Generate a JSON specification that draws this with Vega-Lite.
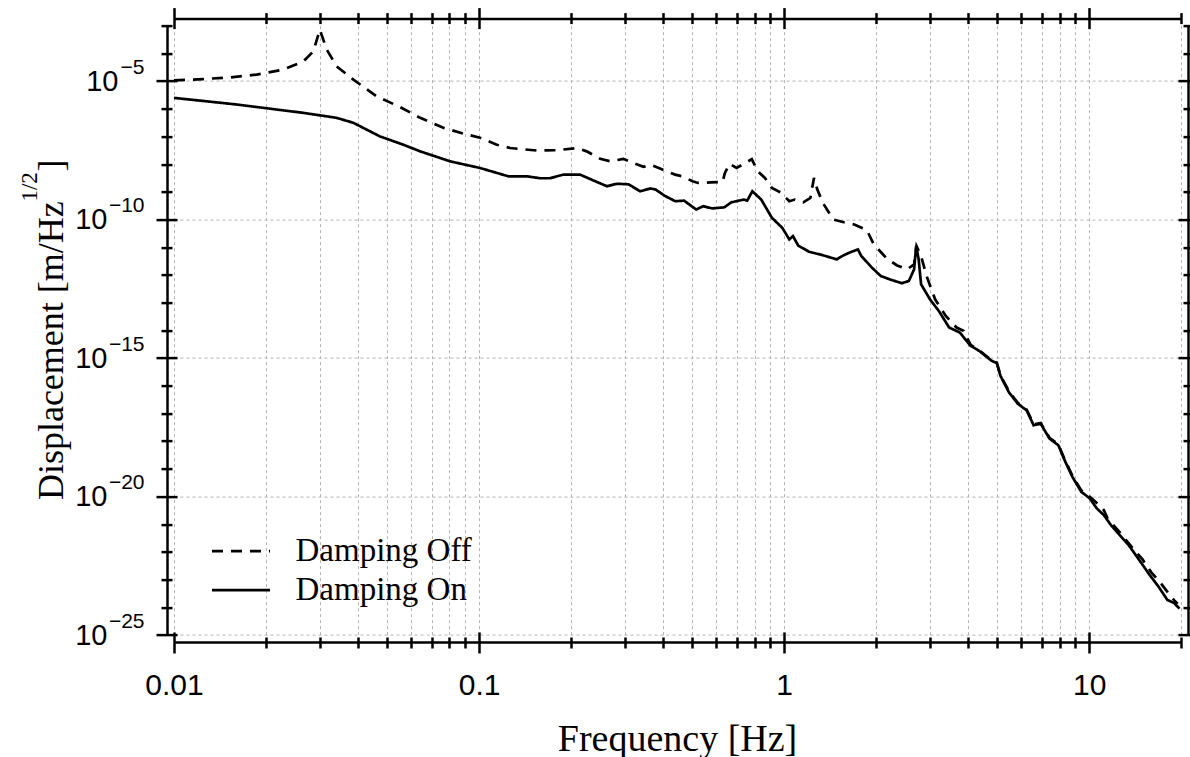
{
  "$schema": "https://vega.github.io/schema/vega-lite/v6.json",
  "width": 1007,
  "height": 609.4,
  "autosize": {"type": "none"},
  "padding": {"left": 174, "top": 25.6, "right": 9, "bottom": 122},
  "background": "white",
  "config": {"view": {"stroke": null}},
  "data": {"values": [
    {"f":0.01,"v":1.047e-5,"s":"Damping Off"},{"f":0.01247,"v":1.175e-5,"s":"Damping Off"},{"f":0.01528,"v":1.349e-5,"s":"Damping Off"},{"f":0.01866,"v":1.698e-5,"s":"Damping Off"},{"f":0.0228,"v":2.57e-5,"s":"Damping Off"},{"f":0.02655,"v":5.129e-5,"s":"Damping Off"},{"f":0.02864,"v":1.175e-4,"s":"Damping Off"},{"f":0.03006,"v":7.079e-4,"s":"Damping Off"},{"f":0.0317,"v":1.349e-4,"s":"Damping Off"},{"f":0.03412,"v":3.388e-5,"s":"Damping Off"},{"f":0.03873,"v":1.122e-5,"s":"Damping Off"},{"f":0.04624,"v":2.754e-6,"s":"Damping Off"},{"f":0.05508,"v":1.148e-6,"s":"Damping Off"},{"f":0.06412,"v":4.677e-7,"s":"Damping Off"},{"f":0.07638,"v":2.042e-7,"s":"Damping Off"},{"f":0.08892,"v":1.259e-7,"s":"Damping Off"},{"f":0.1007,"v":8.913e-8,"s":"Damping Off"},{"f":0.1143,"v":5.012e-8,"s":"Damping Off"},{"f":0.1265,"v":3.802e-8,"s":"Damping Off"},{"f":0.1545,"v":3.09e-8,"s":"Damping Off"},{"f":0.1799,"v":3.162e-8,"s":"Damping Off"},{"f":0.2089,"v":3.802e-8,"s":"Damping Off"},{"f":0.2254,"v":2.884e-8,"s":"Damping Off"},{"f":0.2495,"v":1.549e-8,"s":"Damping Off"},{"f":0.2692,"v":1.259e-8,"s":"Damping Off"},{"f":0.2972,"v":1.549e-8,"s":"Damping Off"},{"f":0.3206,"v":1.096e-8,"s":"Damping Off"},{"f":0.3459,"v":7.943e-9,"s":"Damping Off"},{"f":0.3648,"v":9.55e-9,"s":"Damping Off"},{"f":0.3954,"v":6.607e-9,"s":"Damping Off"},{"f":0.4395,"v":4.169e-9,"s":"Damping Off"},{"f":0.4634,"v":3.631e-9,"s":"Damping Off"},{"f":0.5012,"v":2.399e-9,"s":"Damping Off"},{"f":0.5224,"v":2.089e-9,"s":"Damping Off"},{"f":0.5728,"v":2.188e-9,"s":"Damping Off"},{"f":0.6281,"v":2.239e-9,"s":"Damping Off"},{"f":0.6397,"v":4.786e-9,"s":"Damping Off"},{"f":0.6622,"v":1.023e-8,"s":"Damping Off"},{"f":0.6982,"v":7.244e-9,"s":"Damping Off"},{"f":0.7464,"v":1.096e-8,"s":"Damping Off"},{"f":0.7834,"v":1.514e-8,"s":"Damping Off"},{"f":0.8204,"v":5.495e-9,"s":"Damping Off"},{"f":0.865,"v":3.162e-9,"s":"Damping Off"},{"f":0.912,"v":1.38e-9,"s":"Damping Off"},{"f":0.9727,"v":9.55e-10,"s":"Damping Off"},{"f":1.04,"v":4.571e-10,"s":"Damping Off"},{"f":1.084,"v":5.248e-10,"s":"Damping Off"},{"f":1.156,"v":4.169e-10,"s":"Damping Off"},{"f":1.219,"v":6.026e-10,"s":"Damping Off"},{"f":1.253,"v":3.162e-9,"s":"Damping Off"},{"f":1.285,"v":1.202e-9,"s":"Damping Off"},{"f":1.34,"v":3.981e-10,"s":"Damping Off"},{"f":1.449,"v":1e-10,"s":"Damping Off"},{"f":1.57,"v":7.943e-11,"s":"Damping Off"},{"f":1.698,"v":6.607e-11,"s":"Damping Off"},{"f":1.866,"v":4.169e-11,"s":"Damping Off"},{"f":1.968,"v":1.259e-11,"s":"Damping Off"},{"f":2.158,"v":4.169e-12,"s":"Damping Off"},{"f":2.339,"v":2.239e-12,"s":"Damping Off"},{"f":2.529,"v":1.585e-12,"s":"Damping Off"},{"f":2.667,"v":2.399e-12,"s":"Damping Off"},{"f":2.716,"v":1.096e-11,"s":"Damping Off"},{"f":2.812,"v":4.786e-12,"s":"Damping Off"},{"f":2.931,"v":9.12e-13,"s":"Damping Off"},{"f":3.126,"v":1.318e-13,"s":"Damping Off"},{"f":3.388,"v":3.311e-14,"s":"Damping Off"},{"f":3.673,"v":1.259e-14,"s":"Damping Off"},{"f":3.873,"v":9.55e-15,"s":"Damping Off"},{"f":4.083,"v":3.02e-15,"s":"Damping Off"},{"f":4.355,"v":1.905e-15,"s":"Damping Off"},{"f":4.786,"v":8.318e-16,"s":"Damping Off"},{"f":4.977,"v":6.918e-16,"s":"Damping Off"},{"f":5.117,"v":2.399e-16,"s":"Damping Off"},{"f":5.458,"v":6.31e-17,"s":"Damping Off"},{"f":5.834,"v":2.399e-17,"s":"Damping Off"},{"f":6.237,"v":1.38e-17,"s":"Damping Off"},{"f":6.577,"v":3.981e-18,"s":"Damping Off"},{"f":6.934,"v":4.467e-18,"s":"Damping Off"},{"f":7.413,"v":1.318e-18,"s":"Damping Off"},{"f":7.925,"v":7.586e-19,"s":"Damping Off"},{"f":8.356,"v":1.905e-19,"s":"Damping Off"},{"f":8.81,"v":5.623e-20,"s":"Damping Off"},{"f":9.419,"v":1.66e-20,"s":"Damping Off"},{"f":10.05,"v":9.772e-21,"s":"Damping Off"},{"f":10.89,"v":4.467e-21,"s":"Damping Off"},{"f":11.17,"v":3.236e-21,"s":"Damping Off"},{"f":11.48,"v":1.622e-21,"s":"Damping Off"},{"f":12.59,"v":5.129e-22,"s":"Damping Off"},{"f":13.8,"v":1.479e-22,"s":"Damping Off"},{"f":14.96,"v":5.37e-23,"s":"Damping Off"},{"f":15.96,"v":1.862e-23,"s":"Damping Off"},{"f":17.06,"v":8.128e-24,"s":"Damping Off"},{"f":18.24,"v":3.09e-24,"s":"Damping Off"},{"f":19.01,"v":1.778e-24,"s":"Damping Off"},{"f":19.5,"v":1.349e-24,"s":"Damping Off"},
    {"f":0.01,"v":2.455e-6,"s":"Damping On"},{"f":0.01247,"v":1.905e-6,"s":"Damping On"},{"f":0.01607,"v":1.413e-6,"s":"Damping On"},{"f":0.02065,"v":1e-6,"s":"Damping On"},{"f":0.02655,"v":7.079e-7,"s":"Damping On"},{"f":0.03412,"v":4.677e-7,"s":"Damping On"},{"f":0.03873,"v":3.09e-7,"s":"Damping On"},{"f":0.04732,"v":1e-7,"s":"Damping On"},{"f":0.05649,"v":5.012e-8,"s":"Damping On"},{"f":0.06412,"v":2.884e-8,"s":"Damping On"},{"f":0.08035,"v":1.259e-8,"s":"Damping On"},{"f":0.1007,"v":7.244e-9,"s":"Damping On"},{"f":0.1247,"v":3.631e-9,"s":"Damping On"},{"f":0.1432,"v":3.631e-9,"s":"Damping On"},{"f":0.1585,"v":3.09e-9,"s":"Damping On"},{"f":0.171,"v":3.09e-9,"s":"Damping On"},{"f":0.1888,"v":4.169e-9,"s":"Damping On"},{"f":0.2143,"v":4.169e-9,"s":"Damping On"},{"f":0.2371,"v":2.57e-9,"s":"Damping On"},{"f":0.2624,"v":1.585e-9,"s":"Damping On"},{"f":0.2831,"v":1.95e-9,"s":"Damping On"},{"f":0.309,"v":1.862e-9,"s":"Damping On"},{"f":0.3373,"v":1.047e-9,"s":"Damping On"},{"f":0.3648,"v":1.318e-9,"s":"Damping On"},{"f":0.3793,"v":1.202e-9,"s":"Damping On"},{"f":0.4055,"v":7.244e-10,"s":"Damping On"},{"f":0.4395,"v":4.571e-10,"s":"Damping On"},{"f":0.4699,"v":4.786e-10,"s":"Damping On"},{"f":0.5152,"v":2.291e-10,"s":"Damping On"},{"f":0.5433,"v":3.02e-10,"s":"Damping On"},{"f":0.5808,"v":2.512e-10,"s":"Damping On"},{"f":0.6368,"v":2.754e-10,"s":"Damping On"},{"f":0.6714,"v":4.169e-10,"s":"Damping On"},{"f":0.7379,"v":5.248e-10,"s":"Damping On"},{"f":0.7568,"v":4.786e-10,"s":"Damping On"},{"f":0.787,"v":1.047e-9,"s":"Damping On"},{"f":0.8414,"v":5.248e-10,"s":"Damping On"},{"f":0.912,"v":1.148e-10,"s":"Damping On"},{"f":0.9863,"v":5.012e-11,"s":"Damping On"},{"f":1.04,"v":1.905e-11,"s":"Damping On"},{"f":1.069,"v":2.512e-11,"s":"Damping On"},{"f":1.112,"v":1.148e-11,"s":"Damping On"},{"f":1.205,"v":6.918e-12,"s":"Damping On"},{"f":1.34,"v":5.129e-12,"s":"Damping On"},{"f":1.489,"v":3.631e-12,"s":"Damping On"},{"f":1.549,"v":4.786e-12,"s":"Damping On"},{"f":1.633,"v":6.31e-12,"s":"Damping On"},{"f":1.746,"v":8.318e-12,"s":"Damping On"},{"f":1.791,"v":4.786e-12,"s":"Damping On"},{"f":1.941,"v":1.82e-12,"s":"Damping On"},{"f":2.075,"v":9.12e-13,"s":"Damping On"},{"f":2.218,"v":6.918e-13,"s":"Damping On"},{"f":2.432,"v":5.012e-13,"s":"Damping On"},{"f":2.564,"v":6.026e-13,"s":"Damping On"},{"f":2.667,"v":1.585e-12,"s":"Damping On"},{"f":2.71,"v":1.096e-11,"s":"Damping On"},{"f":2.761,"v":3.631e-12,"s":"Damping On"},{"f":2.812,"v":4.571e-13,"s":"Damping On"},{"f":3.006,"v":1.318e-13,"s":"Damping On"},{"f":3.214,"v":5.012e-14,"s":"Damping On"},{"f":3.475,"v":1.259e-14,"s":"Damping On"},{"f":3.767,"v":8.318e-15,"s":"Damping On"},{"f":4.083,"v":2.754e-15,"s":"Damping On"},{"f":4.355,"v":1.82e-15,"s":"Damping On"},{"f":4.786,"v":7.943e-16,"s":"Damping On"},{"f":4.977,"v":6.607e-16,"s":"Damping On"},{"f":5.117,"v":2.291e-16,"s":"Damping On"},{"f":5.458,"v":5.754e-17,"s":"Damping On"},{"f":5.834,"v":2.239e-17,"s":"Damping On"},{"f":6.237,"v":1.288e-17,"s":"Damping On"},{"f":6.577,"v":3.715e-18,"s":"Damping On"},{"f":6.934,"v":4.266e-18,"s":"Damping On"},{"f":7.413,"v":1.23e-18,"s":"Damping On"},{"f":7.925,"v":7.079e-19,"s":"Damping On"},{"f":8.356,"v":1.778e-19,"s":"Damping On"},{"f":8.81,"v":5.129e-20,"s":"Damping On"},{"f":9.419,"v":1.479e-20,"s":"Damping On"},{"f":10.05,"v":8.511e-21,"s":"Damping On"},{"f":10.59,"v":3.715e-21,"s":"Damping On"},{"f":11.17,"v":2.138e-21,"s":"Damping On"},{"f":11.78,"v":9.333e-22,"s":"Damping On"},{"f":12.59,"v":4.074e-22,"s":"Damping On"},{"f":13.46,"v":1.778e-22,"s":"Damping On"},{"f":14.59,"v":5.129e-23,"s":"Damping On"},{"f":15.78,"v":1.479e-23,"s":"Damping On"},{"f":16.87,"v":5.623e-24,"s":"Damping On"},{"f":18.03,"v":1.862e-24,"s":"Damping On"},{"f":19.01,"v":1.413e-24,"s":"Damping On"},{"f":19.77,"v":8.913e-25,"s":"Damping On"}
  ]},
  "layer": [
    {
      "mark": {"type": "line", "strokeWidth": 2.7, "color": "black"},
      "encoding": {
        "x": {"field": "f", "type": "quantitative",
          "scale": {"type": "log", "domain": [0.01, 20], "nice": false},
          "axis": {"orient": "bottom", "offset": 7,
            "values": [0.01,0.02,0.03,0.04,0.05,0.06,0.07,0.08,0.09,0.1,0.2,0.3,0.4,0.5,0.6,0.7,0.8,0.9,1,2,3,4,5,6,7,8,9,10,20],
            "format": "~g",
            "labelExpr": "indexof([0.01,0.1,1,10], datum.value) >= 0 ? datum.label : ''",
            "ticks": false, "tickSize": 0,
            "domain": true, "domainColor": "black", "domainWidth": 2.5,
            "labelFont": "Liberation Sans", "labelFontSize": 30, "labelColor": "black", "labelPadding": 28,
            "labelFlush": false, "labelOverlap": false,
            "grid": true, "gridColor": "#b4b4b4", "gridDash": [3, 3], "gridWidth": 1,
            "title": "Frequency [Hz]", "titleFont": "Liberation Serif", "titleFontSize": 38,
            "titleFontWeight": "normal", "titleColor": "black",
            "titleX": 503, "titleY": 108, "titleBaseline": "alphabetic", "titleAlign": "center"}},
        "y": {"field": "v", "type": "quantitative",
          "scale": {"type": "log", "domain": [1e-25, 1e-3], "nice": false},
          "axis": {"orient": "left", "offset": 7,
            "values": [1e-3,1e-4,1e-5,1e-6,1e-7,1e-8,1e-9,1e-10,1e-11,1e-12,1e-13,1e-14,1e-15,1e-16,1e-17,1e-18,1e-19,1e-20,1e-21,1e-22,1e-23,1e-24,1e-25],
            "labelExpr": "abs(round(log(datum.value)/LN10)) % 5 == 0 ? '10' : ''",
            "ticks": false, "tickSize": 0,
            "domain": true, "domainColor": "black", "domainWidth": 2.5,
            "labelFont": "Liberation Sans", "labelFontSize": 29, "labelColor": "black",
            "labelPadding": {"condition": {"test": "round(log(datum.value)/LN10) == -5", "value": 49}, "value": 60},
            "labelFlush": false, "labelOverlap": false,
            "grid": true, "gridColor": "#b4b4b4", "gridDash": [3, 3], "gridWidth": 1,
            "gridOpacity": {"condition": {"test": "abs(round(log(datum.value)/LN10)) % 5 == 0", "value": 1}, "value": 0},
            "title": "Displacement [m/Hz", "titleFont": "Liberation Serif", "titleFontSize": 36,
            "titleFontWeight": "normal", "titleColor": "black", "titleAngle": 270,
            "titleX": -105, "titleY": 474, "titleBaseline": "alphabetic", "titleAlign": "left"}},
        "strokeDash": {"field": "s", "type": "nominal",
          "scale": {"domain": ["Damping Off", "Damping On"], "range": [[11, 8], [1, 0]]},
          "legend": {"orient": "none", "legendX": 50.5, "legendY": 509, "title": null,
            "symbolType": "M-2,0H2", "symbolSize": 841, "symbolStrokeWidth": 2.7, "symbolStrokeColor": "black",
            "labelFont": "Liberation Serif", "labelFontSize": 33, "labelColor": "black",
            "labelOffset": 38, "rowPadding": 5, "padding": 0, "labelLimit": 400}}
      }
    },
    {
      "mark": {"type": "point", "opacity": 0},
      "encoding": {
        "x": {"field": "f", "type": "quantitative",
          "scale": {"type": "log", "domain": [0.01, 20], "nice": false},
          "axis": {"orient": "bottom", "offset": 2, "title": null, "labels": false, "domain": false, "grid": false,
            "values": [0.02,0.03,0.04,0.05,0.06,0.07,0.08,0.09,0.2,0.3,0.4,0.5,0.6,0.7,0.8,0.9,2,3,4,5,6,7,8,9,20],
            "ticks": true, "tickColor": "black", "tickWidth": 2.5, "tickSize": 11}},
        "y": {"field": "v", "type": "quantitative",
          "scale": {"type": "log", "domain": [1e-25, 1e-3], "nice": false},
          "axis": {"orient": "left", "offset": 2, "labels": false, "domain": false, "grid": false,
            "values": [1e-3,1e-4,1e-6,1e-7,1e-8,1e-9,1e-11,1e-12,1e-13,1e-14,1e-16,1e-17,1e-18,1e-19,1e-21,1e-22,1e-23,1e-24],
            "ticks": true, "tickColor": "black", "tickWidth": 2.5, "tickSize": 11,
            "title": "1/2", "titleFont": "Liberation Serif", "titleFontSize": 23,
            "titleFontWeight": "normal", "titleColor": "black", "titleAngle": 270,
            "titleX": -136, "titleY": 175.5, "titleBaseline": "alphabetic", "titleAlign": "left"}}
      }
    },
    {
      "mark": {"type": "point", "opacity": 0},
      "encoding": {
        "x": {"field": "f", "type": "quantitative",
          "scale": {"type": "log", "domain": [0.01, 20], "nice": false},
          "axis": {"orient": "bottom", "offset": -3, "title": null, "labels": false, "domain": false, "grid": false,
            "values": [0.01, 0.1, 1, 10],
            "ticks": true, "tickColor": "black", "tickWidth": 2.5, "tickSize": 21}},
        "y": {"field": "v", "type": "quantitative",
          "scale": {"type": "log", "domain": [1e-25, 1e-3], "nice": false},
          "axis": {"orient": "left", "offset": -3, "domain": false, "grid": false,
            "values": [1e-5, 1e-10, 1e-15, 1e-20, 1e-25],
            "ticks": true, "tickColor": "black", "tickWidth": 2.5, "tickSize": 21,
            "labels": true, "labelExpr": "'−' + abs(round(log(datum.value)/LN10))",
            "labelFont": "Liberation Sans", "labelFontSize": 21, "labelColor": "black",
            "labelPadding": 12, "labelOffset": -14, "labelAlign": "right", "labelBaseline": "middle",
            "labelFlush": false, "labelOverlap": false,
            "title": "]", "titleFont": "Liberation Serif", "titleFontSize": 36,
            "titleFontWeight": "normal", "titleColor": "black", "titleAngle": 270,
            "titleX": -115, "titleY": 145.5, "titleBaseline": "alphabetic", "titleAlign": "left"}}
      }
    },
    {
      "mark": {"type": "point", "opacity": 0},
      "encoding": {
        "x": {"field": "f", "type": "quantitative",
          "scale": {"type": "log", "domain": [0.01, 20], "nice": false},
          "axis": {"orient": "top", "offset": 7, "title": null, "labels": false, "grid": false, "ticks": false,
            "domain": true, "domainColor": "black", "domainWidth": 2.5}},
        "y": {"field": "v", "type": "quantitative",
          "scale": {"type": "log", "domain": [1e-25, 1e-3], "nice": false},
          "axis": {"orient": "right", "offset": 7, "title": null, "labels": false, "grid": false, "ticks": false,
            "domain": true, "domainColor": "black", "domainWidth": 2.5}}
      }
    },
    {
      "mark": {"type": "point", "opacity": 0},
      "encoding": {
        "x": {"field": "f", "type": "quantitative",
          "scale": {"type": "log", "domain": [0.01, 20], "nice": false},
          "axis": {"orient": "top", "offset": 2, "title": null, "labels": false, "domain": false, "grid": false,
            "values": [0.02,0.03,0.04,0.05,0.06,0.07,0.08,0.09,0.2,0.3,0.4,0.5,0.6,0.7,0.8,0.9,2,3,4,5,6,7,8,9,20],
            "ticks": true, "tickColor": "black", "tickWidth": 2.5, "tickSize": 11}},
        "y": {"field": "v", "type": "quantitative",
          "scale": {"type": "log", "domain": [1e-25, 1e-3], "nice": false},
          "axis": {"orient": "right", "offset": 2, "title": null, "labels": false, "domain": false, "grid": false,
            "values": [1e-3,1e-4,1e-6,1e-7,1e-8,1e-9,1e-11,1e-12,1e-13,1e-14,1e-16,1e-17,1e-18,1e-19,1e-21,1e-22,1e-23,1e-24],
            "ticks": true, "tickColor": "black", "tickWidth": 2.5, "tickSize": 11}}
      }
    },
    {
      "mark": {"type": "point", "opacity": 0},
      "encoding": {
        "x": {"field": "f", "type": "quantitative",
          "scale": {"type": "log", "domain": [0.01, 20], "nice": false},
          "axis": {"orient": "top", "offset": -3, "title": null, "labels": false, "domain": false, "grid": false,
            "values": [0.01, 0.1, 1, 10],
            "ticks": true, "tickColor": "black", "tickWidth": 2.5, "tickSize": 21}},
        "y": {"field": "v", "type": "quantitative",
          "scale": {"type": "log", "domain": [1e-25, 1e-3], "nice": false},
          "axis": {"orient": "right", "offset": -3, "title": null, "labels": false, "domain": false, "grid": false,
            "values": [1e-5, 1e-10, 1e-15, 1e-20, 1e-25],
            "ticks": true, "tickColor": "black", "tickWidth": 2.5, "tickSize": 21}}
      }
    }
  ],
  "resolve": {"axis": {"x": "independent", "y": "independent"}}
}
